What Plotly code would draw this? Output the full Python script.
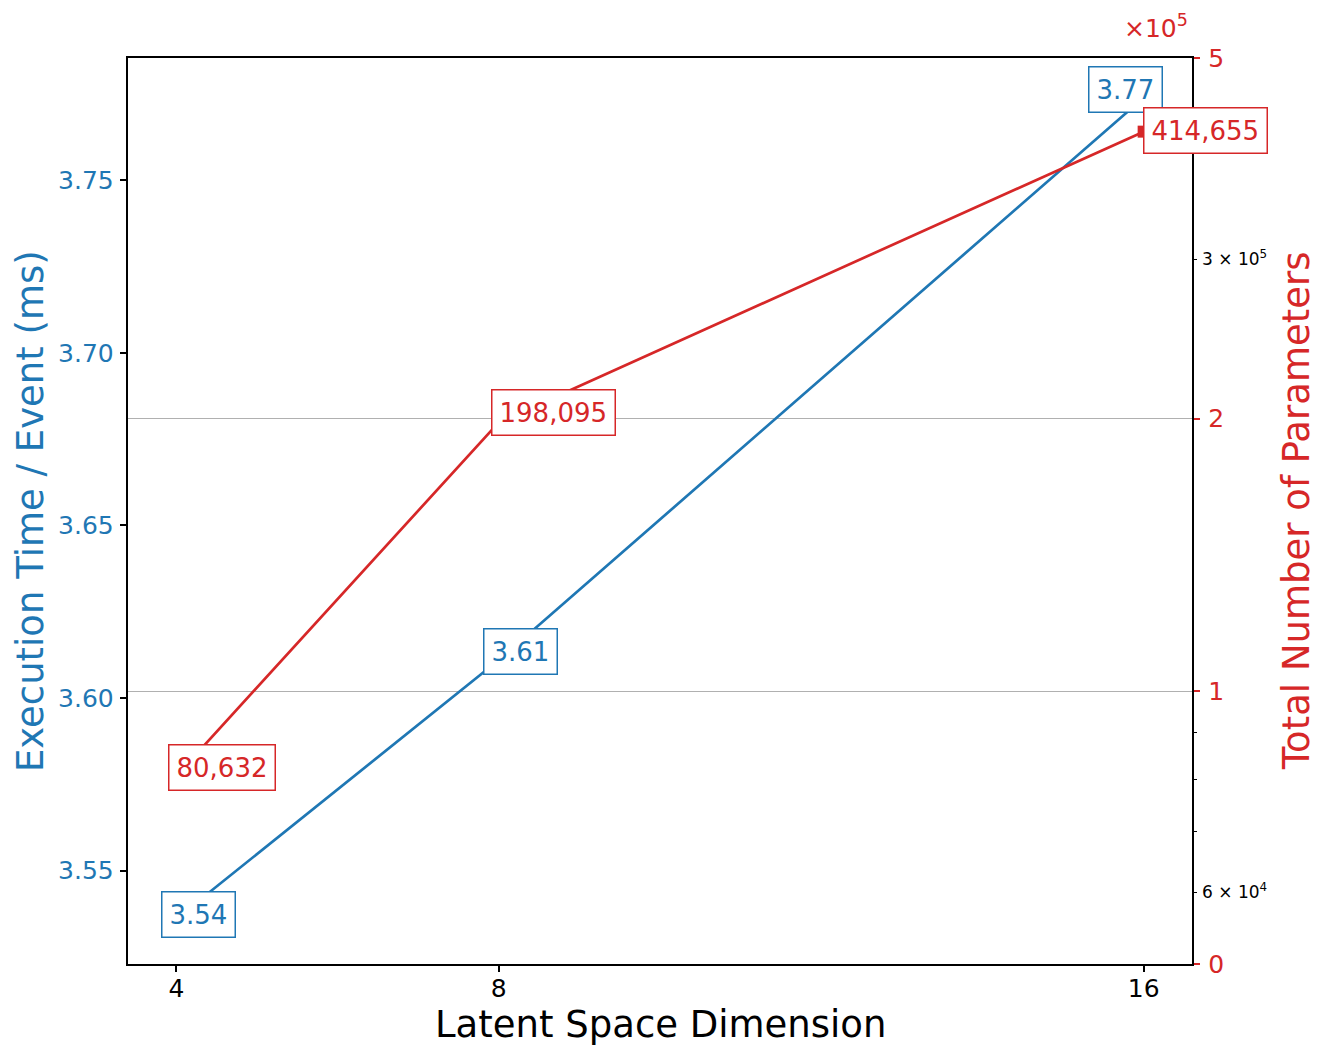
import math

import plotly.graph_objects as go

# ---------------------------------------------------------------------------
# Data
# ---------------------------------------------------------------------------
latent_dim = [4, 8, 16]
exec_time_ms = [3.536, 3.611, 3.774]
n_params = [80632, 198095, 414655]

x_ticks = [4, 8, 16]
left_ticks = [3.55, 3.60, 3.65, 3.70, 3.75]
right_major_ticks = [5e4, 1e5, 2e5, 5e5]
right_major_text = ["0", "1", "2", "5"]
right_minor_ticks = [7e4, 8e4, 9e4, 4e5]
right_minor_labeled = [6e4, 3e5]
right_minor_text = ["6 × 10<sup>4</sup>", "3 × 10<sup>5</sup>"]

BLUE = "#1f77b4"
RED = "#d62728"
FONT = "DejaVu Sans"

fig = go.Figure()

fig.add_trace(
    go.Scatter(
        x=latent_dim, y=exec_time_ms,
        mode="lines",
        line=dict(color=BLUE, width=2.7),
        yaxis="y",
        showlegend=False,
    )
)
fig.add_trace(
    go.Scatter(
        x=latent_dim, y=n_params,
        mode="lines+markers",
        line=dict(color=RED, width=2.7),
        marker=dict(symbol="square", size=12, color=RED),
        yaxis="y2",
        showlegend=False,
    )
)
# invisible traces so the minor-tick axes are drawn
for ax in ("y3", "y4"):
    fig.add_trace(
        go.Scatter(
            x=latent_dim, y=n_params,
            mode="lines", line=dict(width=0), opacity=0,
            yaxis=ax, showlegend=False, hoverinfo="skip",
        )
    )

# value labels (boxes)
blue_shifts = [(22, 4), (22, 9), (-18, 8)]
red_shifts = [(46, 8), (55, 10), (62, 1)]
annotations = []
for x, v, (dx, dy) in zip(latent_dim, exec_time_ms, blue_shifts):
    annotations.append(dict(
        x=x, y=v, xref="x", yref="y", text=f"{v:.2f}",
        showarrow=False, xshift=dx, yshift=dy,
        font=dict(size=26, color=BLUE, family=FONT),
        bgcolor="white", bordercolor=BLUE, borderwidth=1.5, borderpad=7,
    ))
for x, v, (dx, dy) in zip(latent_dim, n_params, red_shifts):
    annotations.append(dict(
        x=x, y=math.log10(v), xref="x", yref="y2", text=f"{v:,}",
        showarrow=False, xshift=dx, yshift=dy,
        font=dict(size=26, color=RED, family=FONT),
        bgcolor="white", bordercolor=RED, borderwidth=1.5, borderpad=7,
    ))

# axis titles and offset text
annotations += [
    dict(x=0.5, y=-0.067, xref="paper", yref="paper", text="Latent Space Dimension",
         showarrow=False, xanchor="center", yanchor="middle",
         font=dict(size=37, color="black", family=FONT)),
    dict(x=-0.092, y=0.5, xref="paper", yref="paper", text="Execution Time / Event (ms)",
         showarrow=False, textangle=-90, xanchor="center", yanchor="middle",
         font=dict(size=37, color=BLUE, family=FONT)),
    dict(x=1.098, y=0.5, xref="paper", yref="paper", text="Total Number of Parameters",
         showarrow=False, textangle=-90, xanchor="center", yanchor="middle",
         font=dict(size=37, color=RED, family=FONT)),
    dict(x=0.998, y=1.035, xref="paper", yref="paper", text="×10<sup>5</sup>",
         showarrow=False, xanchor="right", yanchor="middle",
         font=dict(size=25, color=RED, family=FONT)),
]

log_range = [math.log10(5e4) - 1e-5, math.log10(5e5) + 1e-5]

fig.update_layout(
    width=1329,
    height=1059,
    margin=dict(l=120, r=145, t=50, b=103),
    plot_bgcolor="white",
    paper_bgcolor="white",
    font=dict(family=FONT),
    annotations=annotations,
    xaxis=dict(
        range=[3.4, 16.6],
        tickvals=x_ticks,
        ticktext=[str(t) for t in x_ticks],
        ticks="outside", ticklen=6.5, tickwidth=1.5, tickcolor="black",
        tickfont=dict(size=25, color="black"),
        ticklabelstandoff=-5,
        showline=True, linecolor="black", linewidth=1.5, mirror=True,
        showgrid=False, zeroline=False,
    ),
    yaxis=dict(
        range=[3.5229, 3.7855],
        tickvals=left_ticks,
        ticktext=[f"{t:.2f}" for t in left_ticks],
        ticks="outside", ticklen=6.5, tickwidth=1.5, tickcolor="black",
        tickfont=dict(size=25, color=BLUE),
        ticklabelstandoff=1,
        showline=True, linecolor="black", linewidth=1.5,
        showgrid=False, zeroline=False,
    ),
    yaxis2=dict(
        type="log",
        range=log_range,
        overlaying="y", side="right", anchor="x",
        tickvals=right_major_ticks,
        ticktext=right_major_text,
        ticks="outside", ticklen=6.5, tickwidth=1.5, tickcolor=RED,
        tickfont=dict(size=25, color=RED),
        ticklabelstandoff=3,
        showline=True, linecolor="black", linewidth=1.5,
        showgrid=True, gridcolor="#b0b0b0", gridwidth=1,
        zeroline=False,
    ),
    yaxis3=dict(
        type="log",
        range=log_range,
        overlaying="y", side="right", anchor="x",
        tickvals=right_minor_ticks,
        ticks="outside", ticklen=3.7, tickwidth=1.2, tickcolor="black",
        showticklabels=False,
        showline=False, showgrid=False, zeroline=False,
    ),
    yaxis4=dict(
        type="log",
        range=log_range,
        overlaying="y", side="right", anchor="x",
        tickvals=right_minor_labeled,
        ticktext=right_minor_text,
        ticks="outside", ticklen=3.7, tickwidth=1.2, tickcolor="black",
        tickfont=dict(size=17, color="black"),
        ticklabelstandoff=2,
        showline=False, showgrid=False, zeroline=False,
    ),
)

fig.write_html("out.html")
